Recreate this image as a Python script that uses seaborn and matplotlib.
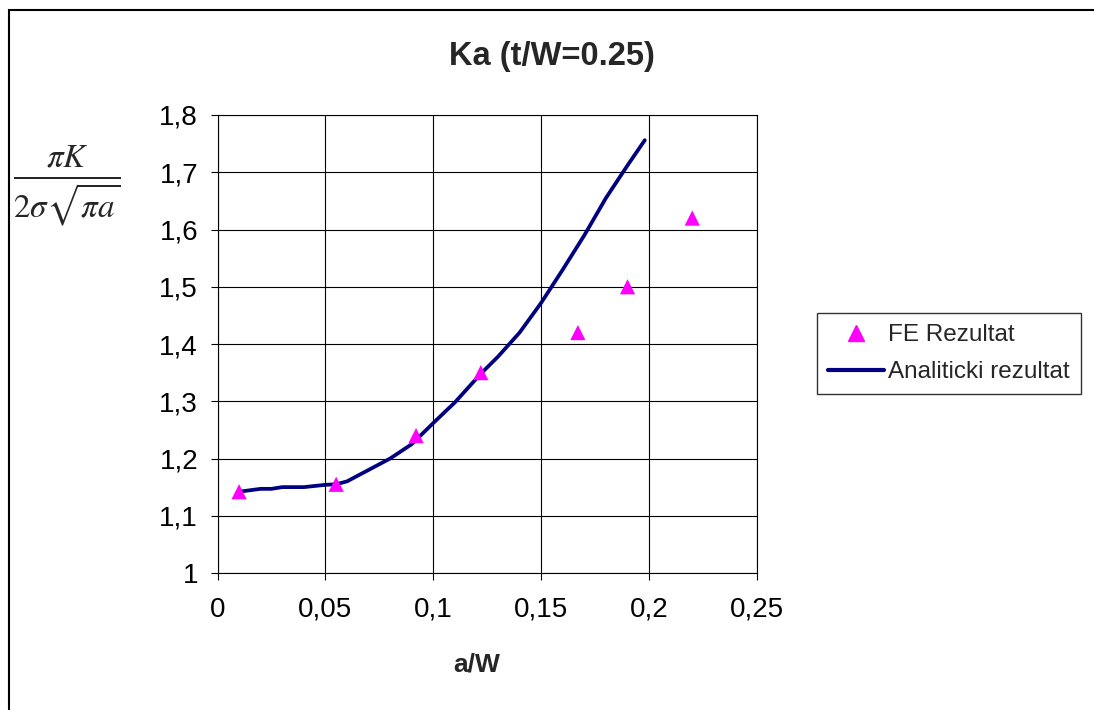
import matplotlib
matplotlib.use("Agg")
import matplotlib.pyplot as plt
import seaborn as sns
import pandas as pd
from matplotlib.lines import Line2D
from matplotlib.patches import Rectangle

# ---- data ----
fe_x = [0.01, 0.055, 0.092, 0.122, 0.167, 0.19, 0.22]
fe_y = [1.142, 1.155, 1.24, 1.35, 1.42, 1.50, 1.62]

an_x = [0.01, 0.02, 0.025, 0.03, 0.04, 0.05, 0.055, 0.06, 0.07, 0.08, 0.09,
        0.10, 0.11, 0.122, 0.13, 0.14, 0.15, 0.16, 0.17, 0.18, 0.19, 0.198]
an_y = [1.142, 1.147, 1.147, 1.150, 1.150, 1.154, 1.155, 1.160, 1.180, 1.200, 1.225,
        1.262, 1.298, 1.348, 1.378, 1.420, 1.472, 1.530, 1.590, 1.655, 1.712, 1.756]

x_ticks = [0, 0.05, 0.1, 0.15, 0.2, 0.25]
x_tick_labels = ["0", "0,05", "0,1", "0,15", "0,2", "0,25"]
y_ticks = [1.0, 1.1, 1.2, 1.3, 1.4, 1.5, 1.6, 1.7, 1.8]
y_tick_labels = ["1", "1,1", "1,2", "1,3", "1,4", "1,5", "1,6", "1,7", "1,8"]

title = "Ka (t/W=0.25)"
xlabel = "a/W"
fe_label = "FE Rezultat"
an_label = "Analiticki rezultat"

sns.set_theme(style="white")
plt.rcParams["font.family"] = ["Liberation Sans", "DejaVu Sans"]
plt.rcParams["mathtext.fontset"] = "stix"

W, H = 1094, 710
fig = plt.figure(figsize=(W / 100, H / 100), dpi=100)
fig.patch.set_facecolor("white")

x0, x1 = 217.5, 757
y0, y1 = 573, 115
ax = fig.add_axes([x0 / W, 1 - y0 / H, (x1 - x0) / W, (y0 - y1) / H])

df_an = pd.DataFrame({"x": an_x, "y": an_y})
df_fe = pd.DataFrame({"x": fe_x, "y": fe_y})

sns.lineplot(data=df_an, x="x", y="y", ax=ax, color="#000080", linewidth=2.7,
             zorder=3, legend=False)
sns.scatterplot(data=df_fe, x="x", y="y", ax=ax, marker="^", color="#FF00FF",
                s=120, edgecolor="none", zorder=4, legend=False)

ax.set_xlim(0, 0.25)
ax.set_ylim(1.0, 1.8)
ax.set_xticks(x_ticks)
ax.set_xticklabels(x_tick_labels)
ax.set_yticks(y_ticks)
ax.set_yticklabels(y_tick_labels)
ax.set_xlabel("")
ax.set_ylabel("")
ax.grid(True, color="black", linewidth=0.8)
ax.set_axisbelow(True)
for s in ax.spines.values():
    s.set_color("black")
    s.set_linewidth(0.8)
ax.tick_params(axis="both", direction="out", length=5, width=0.8, color="black",
               labelsize=20, labelcolor="black", bottom=True, left=True)
ax.tick_params(axis="x", pad=12)
ax.tick_params(axis="y", pad=9)

fig.text(552 / W, 1 - 56 / H, title, ha="center", va="center",
         fontsize=23.5, fontweight="bold")
fig.text(477 / W, 1 - 664 / H, xlabel, ha="center", va="center",
         fontsize=19, fontweight="bold")
fig.text(67 / W, 1 - 186 / H, r"$\frac{\pi K}{2\sigma\sqrt{\pi a}}$",
         ha="center", va="center", fontsize=34)

handles = [
    Line2D([], [], marker="^", color="#FF00FF", linestyle="none", markersize=12),
    Line2D([], [], color="#000080", linewidth=3),
]
leg = fig.legend(handles, [fe_label, an_label], loc="upper left",
                 bbox_to_anchor=(817 / W, 1 - 313 / H), fontsize=17.5,
                 frameon=True, fancybox=False, handlelength=2.3,
                 handletextpad=0.15, borderpad=0.47, labelspacing=0.6,
                 borderaxespad=0)
leg.get_frame().set_edgecolor("black")
leg.get_frame().set_linewidth(1)

fig.patches.append(Rectangle((8.5 / W, -0.1), 2, 1 - 9.5 / H + 0.1,
                             transform=fig.transFigure, fill=False,
                             edgecolor="black", linewidth=1.5))

fig.savefig("out.png", dpi=100)
